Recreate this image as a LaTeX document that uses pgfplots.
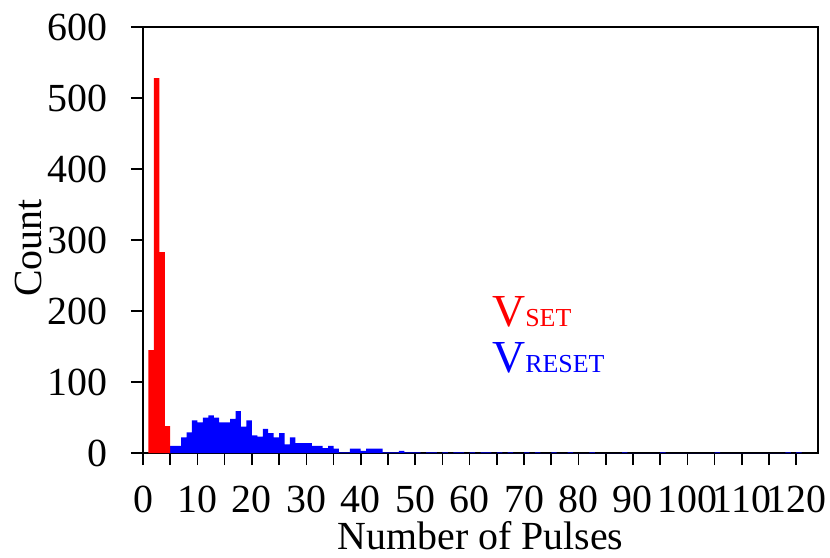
\documentclass[border=0pt]{standalone}
\usepackage{fontspec}
\setmainfont{Liberation Serif}
\usepackage{pgfplots}
\pgfplotsset{compat=1.18}
\begin{document}
\begin{tikzpicture}
\begin{axis}[
  scale only axis,
  width=675bp, height=426bp,
  xmin=0, xmax=124, ymin=0, ymax=600,
  axis line style={line width=1.6bp},
  every tick/.style={black, line width=1.6bp},
  tick align=outside,
  major tick length=12bp,
  minor tick length=12bp,
  xtick={0,10,...,120},
  minor xtick={5,15,...,115},
  ytick={0,100,...,600},
  xtick pos=bottom, ytick pos=left,
  /pgf/number format/assume math mode=true,
  tick label style={font=\fontsize{40}{48}\selectfont},
  yticklabel style={xshift=-20bp},
  xticklabel style={yshift=-17bp},
  xlabel={Number of Pulses},
  ylabel={Count},
  label style={font=\fontsize{40}{48}\selectfont},
  xlabel style={at={(axis description cs:0.5,-0.226)}, anchor=base},
  ylabel style={at={(axis description cs:-0.170,0.481)}, anchor=center, rotate=0},
  clip=false,
]
\addplot[ybar interval, fill=blue, draw=none] coordinates {
(4,3)(5,10)(6,10)(7,22)(8,29)(9,46)(10,43)(11,50)(12,53)(13,50)(14,43)(15,43)
(16,48)(17,59)(18,37)(19,46)(20,25)(21,23)(22,34)(23,28)(24,22)(25,28)(26,12)
(27,22)(28,14)(29,14)(30,14)(31,10)(32,10)(33,7)(34,10)(35,6)(36,1)(37,1)
(38,6)(39,6)(40,3)(41,6)(42,6)(43,6)(44,1)(45,1)(46,1)(47,3)(48,1)(49,1)
(50,1)(51,0)(52,1)(53,1)(54,0)(55,1)(56,0)(57,1)(58,1)(59,0)(60,1)(61,0)
(62,1)(63,1)(64,0)(65,1)(66,0)(67,1)(68,0)(70,1)(71,0)(72,1)(73,0)(75,1)(76,0)
(78,1)(79,0)(82,1)(83,0)(88,1)(89,0)(95,1)(96,0)(105,1)(106,0)(118,1)(119,0)
(120,1)(121,0)};
\addplot[ybar interval, fill=red, draw=none] coordinates {
(1,145)(2,528)(3,283)(4,38)(5,0)};
\node[anchor=base west, text=red, inner sep=0pt] at (rel axis cs:0.517,0.296)
  {{\fontsize{46}{46}\selectfont V}{\fontsize{26}{26}\selectfont SET}};
\node[anchor=base west, text=blue, inner sep=0pt] at (rel axis cs:0.517,0.190)
  {{\fontsize{46}{46}\selectfont V}{\fontsize{26}{26}\selectfont RESET}};
\coordinate (bl) at (rel axis cs:-0.21185,-0.24648);
\coordinate (tr) at (rel axis cs:1.01778,1.06338);
\end{axis}
\pgfresetboundingbox
\path[use as bounding box] (bl) rectangle (tr);
\end{tikzpicture}
\end{document}
